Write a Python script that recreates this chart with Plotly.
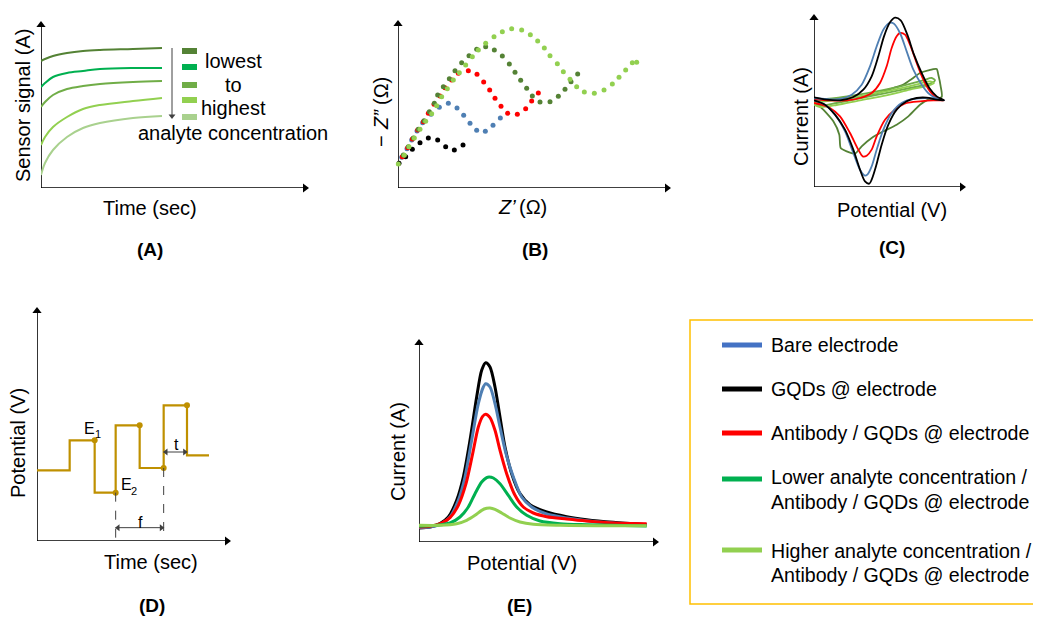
import plotly.graph_objects as go

W, H = 1041, 617          # target window
OFF = 8                   # page body margin in the browser
FW, FH = W - OFF, H - OFF # figure size so it fits in the window
FONT = "Liberation Sans, Arial, sans-serif"

# ---------------- data (arbitrary units) ----------------
# Panel A: sensor signal vs time, 5 concentrations
a_time = [0, 4, 12, 26, 42, 59, 92, 121]
a_sig1 = [127, 129, 132, 135, 137, 138, 139, 140]
a_sig2 = [101, 105, 111, 115, 117, 119, 120, 120]
a_sig3 = [81, 86, 93, 99, 102, 104, 106, 107]
a_sig4 = [43, 51, 61, 71, 79, 83, 87, 90]
a_sig5 = [13, 25, 38, 51, 60, 65, 70, 72]
a_labels = ["lowest", "to", "highest", "analyte concentration"]

# Panel B: Nyquist plots (Z', -Z'')
b_black_x = [3, 23, 43, 66, 91, 119, 143, 169, 195]
b_black_y = [74, 94, 116, 136, 150, 144, 124, 114, 129]
b_blue_x = [11, 27, 41, 57, 74, 99, 124, 151, 177, 197, 216, 236, 262, 285, 307]
b_blue_y = [92, 118, 144, 171, 196, 221, 242, 254, 240, 218, 194, 173, 170, 188, 210]
b_red_x = [13, 29, 43, 59, 76, 91, 108, 126, 141, 161, 181, 211, 237, 257, 275, 291, 309, 329, 358, 383, 401, 421]
b_red_y = [94, 121, 147, 174, 199, 224, 251, 276, 301, 324, 344, 352, 341, 318, 294, 269, 245, 224, 221, 238, 261, 285]
b_dkg_x = [16, 31, 46, 61, 78, 94, 109, 119, 136, 154, 171, 191, 213, 236, 263, 289, 313, 334, 351, 368, 386, 403, 426, 456, 481, 501, 519, 539]
b_dkg_y = [99, 124, 150, 176, 202, 229, 254, 279, 304, 328, 352, 376, 397, 416, 424, 414, 396, 372, 347, 323, 299, 276, 258, 259, 275, 296, 319, 342]
b_ltg_x = [1, 19, 33, 49, 66, 83, 101, 116, 131, 148, 166, 184, 203, 223, 241, 263, 288, 313, 341, 371, 397, 419, 439, 456, 478, 496, 516, 536, 559, 589, 618, 643, 663, 683, 703, 716]
b_ltg_y = [72, 98, 124, 150, 176, 200, 223, 247, 274, 298, 324, 346, 369, 394, 414, 434, 454, 469, 478, 474, 460, 441, 420, 397, 373, 349, 326, 304, 288, 284, 294, 312, 332, 354, 376, 377]

# Panel C: cyclic voltammograms (closed loops)
c_black_x = [0, 38, 78, 118, 148, 173, 193, 210, 228, 243, 260, 280, 300, 323, 346, 368, 390,
             368, 338, 308, 278, 248, 223, 203, 186, 173, 166, 153, 138, 118, 93, 63, 33, 0]
c_black_y = [269, 262, 260, 270, 292, 332, 392, 452, 494, 508, 500, 457, 397, 342, 297, 272, 260,
             262, 268, 267, 257, 232, 187, 127, 62, 22, 10, 17, 52, 112, 172, 217, 247, 260]
c_blue_x = [0, 38, 78, 113, 143, 168, 188, 208, 226, 240, 258, 278, 298, 323, 348, 373, 390,
            368, 338, 298, 263, 233, 208, 188, 173, 160, 153, 138, 118, 93, 63, 33, 0]
c_blue_y = [267, 264, 264, 277, 307, 362, 422, 472, 492, 490, 462, 407, 352, 307, 277, 264, 260,
            264, 267, 264, 252, 222, 172, 112, 62, 37, 34, 52, 102, 167, 217, 247, 260]
c_red_x = [0, 48, 98, 138, 173, 198, 218, 233, 248, 258, 273, 288, 308, 328, 348, 373, 390,
           358, 318, 278, 243, 213, 188, 173, 158, 146, 133, 108, 78, 48, 23, 0]
c_red_y = [264, 260, 260, 267, 282, 312, 362, 417, 452, 462, 457, 427, 372, 322, 287, 264, 260,
           260, 257, 252, 232, 202, 152, 112, 94, 92, 112, 162, 212, 237, 247, 252]
c_dkg_x = [0, 28, 58, 76, 80, 98, 123, 143, 173, 208, 248, 283, 303, 318, 343, 383, 380, 373, 368,
           343, 318, 293, 268, 238, 198, 158, 108, 48, 0]
c_dkg_y = [260, 232, 197, 157, 117, 107, 100, 122, 147, 167, 187, 212, 232, 247, 262, 270, 302, 337, 354,
           350, 342, 324, 307, 297, 284, 274, 267, 262, 260]
c_mdg_x = [0, 88, 188, 268, 328, 353, 363, 348, 288, 208, 138, 68, 18, 0]
c_mdg_y = [260, 270, 287, 304, 320, 327, 320, 310, 297, 280, 266, 252, 244, 252]
c_ltg_x = [0, 78, 178, 258, 318, 348, 360, 343, 288, 213, 138, 68, 18, 0]
c_ltg_y = [254, 262, 280, 296, 310, 317, 312, 304, 292, 274, 260, 246, 240, 247]

# Panel D: square-wave potential steps
d_time = [0, 98, 98, 173, 173, 236, 236, 308, 308, 380, 380, 450, 450, 516]
d_pot = [212, 212, 302, 302, 145, 145, 347, 347, 219, 219, 407, 407, 257, 257]
d_dot_t = [173, 236, 308, 380, 450]
d_dot_p = [302, 145, 347, 219, 407]

# Panel E: differential pulse voltammograms
e_black_x = [0, 33, 63, 88, 113, 133, 153, 173, 188, 200, 213, 228, 243, 258, 278, 303, 333, 383, 443, 503, 583, 683]
e_black_y = [42, 45, 55, 75, 125, 195, 305, 435, 515, 538, 525, 465, 375, 285, 205, 145, 112, 90, 76, 67, 59, 52]
e_blue_x = [0, 33, 68, 93, 118, 138, 158, 178, 193, 200, 213, 228, 243, 261, 283, 308, 338, 383, 443, 503, 583, 683]
e_blue_y = [43, 45, 55, 75, 125, 195, 305, 415, 465, 475, 465, 415, 345, 265, 195, 135, 105, 84, 72, 64, 57, 52]
e_red_x = [0, 33, 68, 93, 118, 141, 161, 178, 191, 200, 213, 228, 243, 263, 288, 313, 343, 383, 443, 503, 583, 683]
e_red_y = [45, 47, 57, 73, 110, 175, 265, 345, 377, 383, 373, 335, 275, 205, 140, 105, 87, 76, 69, 63, 57, 55]
e_grn_x = [0, 53, 93, 123, 148, 168, 188, 203, 210, 223, 243, 268, 293, 323, 363, 423, 503, 583, 683]
e_grn_y = [47, 50, 57, 75, 105, 145, 180, 193, 195, 192, 175, 140, 105, 80, 63, 55, 52, 50, 48]
e_ltg_x = [0, 63, 113, 143, 168, 188, 203, 213, 228, 248, 273, 303, 343, 423, 533, 683]
e_ltg_y = [50, 50, 55, 65, 80, 95, 101, 102, 98, 87, 72, 60, 53, 50, 49, 49]

legend_labels = ["Bare electrode", "GQDs @ electrode", "Antibody / GQDs @ electrode",
                 ["Lower analyte concentration /", "Antibody / GQDs @ electrode"],
                 ["Higher analyte concentration /", "Antibody / GQDs @ electrode"]]

# ---------------- colours ----------------
DKG, GRN, MDG, LTG, PLG = "#548235", "#00B050", "#70AD47", "#92D050", "#A9D18E"
BLUE, RED, BLK, GOLD = "#4f7fb3", "#FF0000", "#000000", "#BF9000"
GREY = "#404040"


def px(x):
    return (x - OFF) / FW


def py(y):
    return 1 - (y - OFF) / FH


# panel geometry: pixel extents of axes (window pixels) and data ranges
panels = {
    1: dict(x=(41, 308), y=(22, 188), xr=(0, 267), yr=(0, 166)),
    2: dict(x=(398, 670), y=(21, 188), xr=(0, 816), yr=(0, 501)),
    3: dict(x=(814, 965), y=(15, 187), xr=(0, 453), yr=(0, 516)),
    4: dict(x=(37, 230), y=(308, 541), xr=(0, 579), yr=(0, 699)),
    5: dict(x=(419, 658), y=(340, 542), xr=(0, 717), yr=(0, 606)),
}

fig = go.Figure()
layout = dict(width=FW, height=FH, margin=dict(l=0, r=0, t=0, b=0),
              paper_bgcolor="white", plot_bgcolor="rgba(0,0,0,0)",
              showlegend=False, font=dict(family=FONT, size=20, color="#000"))
annotations, shapes = [], []


def ax_names(n):
    sfx = "" if n == 1 else str(n)
    return "x" + sfx, "y" + sfx


def line(xs, ys, color, width, ax=1, shape="spline", smoothing=0.8, dash=None):
    xa, ya = ax_names(ax)
    fig.add_trace(go.Scatter(x=xs, y=ys, mode="lines", xaxis=xa, yaxis=ya,
                             line=dict(color=color, width=width, shape=shape,
                                       smoothing=smoothing if shape == "spline" else None,
                                       dash=dash),
                             hoverinfo="skip", cliponaxis=False))


def dots(xs, ys, color, size, ax, symbol="circle"):
    xa, ya = ax_names(ax)
    fig.add_trace(go.Scatter(x=xs, y=ys, mode="markers", xaxis=xa, yaxis=ya,
                             marker=dict(color=color, size=size, symbol=symbol, line=dict(width=0)),
                             hoverinfo="skip", cliponaxis=False))


def label(txt, x, y, size=20, angle=0, bold=False, italic=False, xanchor="center",
          xref="paper", yref="paper"):
    if xref == "paper":
        x, y = px(x), py(y)
    annotations.append(dict(x=x, y=y, xref=xref, yref=yref, text=txt, textangle=angle,
                            showarrow=False, xanchor=xanchor, yanchor="middle",
                            font=dict(size=size, weight="bold" if bold else "normal",
                                      style="italic" if italic else "normal")))


for n, p in panels.items():
    xa, ya = ax_names(n)
    sfx = xa[1:]
    layout["xaxis" + sfx] = dict(domain=[px(p["x"][0]), px(p["x"][1])], range=list(p["xr"]),
                                 visible=False, anchor=ya, fixedrange=True)
    layout["yaxis" + sfx] = dict(domain=[py(p["y"][1]), py(p["y"][0])], range=list(p["yr"]),
                                 visible=False, anchor=xa, fixedrange=True)

# axis lines with arrow heads
for n, p in panels.items():
    kx = (p["xr"][1] - p["xr"][0]) / (p["x"][1] - p["x"][0])   # data units per pixel
    ky = (p["yr"][1] - p["yr"][0]) / (p["y"][1] - p["y"][0])
    line([0, p["xr"][1] - 3 * kx], [0, 0], BLK, 1.6, n, shape="linear")
    line([0, 0], [0, p["yr"][1] - 3 * ky], BLK, 1.6, n, shape="linear")
    dots([p["xr"][1] - 3 * kx], [0], BLK, 8, n, "triangle-right")
    dots([0], [p["yr"][1] - 3 * ky], BLK, 8, n, "triangle-up")

# ---- Panel A
for ys, c in [(a_sig1, DKG), (a_sig2, GRN), (a_sig3, MDG), (a_sig4, LTG), (a_sig5, PLG)]:
    line(a_time, ys, c, 2, 1, smoothing=1.0)
for yy, c in [(51, DKG), (67, GRN), (85, MDG), (100, LTG), (117, PLG)]:
    shapes.append(dict(type="rect", xref="paper", yref="paper", x0=px(182), x1=px(197),
                       y0=py(yy + 3), y1=py(yy - 3), fillcolor=c, line=dict(width=0)))
line([131, 131], [140, 72], GREY, 1, 1, shape="linear")
dots([131], [72], GREY, 6, 1, "triangle-down")
for txt, yy in zip(a_labels, [61, 85, 108, 133]):
    label(txt, 233, yy)

# ---- Panel B
dots(b_black_x, b_black_y, BLK, 5, 2)
dots(b_blue_x, b_blue_y, BLUE, 5, 2)
dots(b_red_x, b_red_y, RED, 5, 2)
dots(b_dkg_x, b_dkg_y, DKG, 5, 2)
dots(b_ltg_x, b_ltg_y, LTG, 5, 2)

# ---- Panel C
line(c_dkg_x, c_dkg_y, DKG, 1.8, 3, smoothing=0.6)
line(c_mdg_x, c_mdg_y, MDG, 1.8, 3, smoothing=0.8)
line(c_ltg_x, c_ltg_y, LTG, 1.8, 3, smoothing=0.8)
line(c_red_x, c_red_y, RED, 1.8, 3)
line(c_blue_x, c_blue_y, BLUE, 1.8, 3)
line(c_black_x, c_black_y, BLK, 1.8, 3)

# ---- Panel D
line(d_time, d_pot, GOLD, 2.2, 4, shape="linear")
dots(d_dot_t, d_dot_p, GOLD, 6, 4)
line([236, 236], [145, 0], GREY, 1, 4, shape="linear", dash="dash")
line([380, 380], [219, 0], GREY, 1, 4, shape="linear", dash="dash")
for (x0, x1, yy) in [(236, 380, 40), (380, 450, 267)]:
    line([x0, x1], [yy, yy], GREY, 1, 4, shape="linear")
    dots([x0 + 7], [yy], GREY, 6, 4, "triangle-left")
    dots([x1 - 7], [yy], GREY, 6, 4, "triangle-right")
for txt, xx, yy, sz in [("E", 157, 339, 16), ("1", 183, 322, 11),
                        ("E", 267, 169, 16), ("2", 291, 151, 11),
                        ("f", 309, 57, 16), ("t", 417, 291, 16)]:
    label(txt, xx, yy, size=sz, xref="x4", yref="y4")

# ---- Panel E
line(e_black_x, e_black_y, BLK, 3, 5)
line(e_blue_x, e_blue_y, BLUE, 3, 5)
line(e_red_x, e_red_y, RED, 3, 5)
line(e_grn_x, e_grn_y, GRN, 3, 5)
line(e_ltg_x, e_ltg_y, LTG, 3, 5)

# ---- axis titles and panel letters
label("Sensor signal (A)", 23, 106, angle=-90)
label("Time (sec)", 150, 208)
label("(A)", 150, 249, size=19, bold=True)

label("−", 381, 141, angle=-90)
label("Z”", 381, 120, angle=-90, italic=True)
label("(Ω)", 381, 91, angle=-90)
label("Z’", 507, 207, italic=True)
label("(Ω)", 533, 207)
label("(B)", 535, 249, size=19, bold=True)

label("Current (A)", 801, 117, angle=-90)
label("Potential (V)", 892, 210)
label("(C)", 892, 248, size=19, bold=True)

label("Potential (V)", 18, 443, angle=-90)
label("Time (sec)", 151, 562)
label("(D)", 152, 605, size=19, bold=True)

label("Current (A)", 398, 452, angle=-90)
label("Potential (V)", 522, 563)
label("(E)", 519, 605, size=19, bold=True)

# ---- legend box
shapes.append(dict(type="rect", xref="paper", yref="paper", x0=px(690), x1=px(1046),
                   y0=py(604), y1=py(320), line=dict(color="#FFC000", width=1.5),
                   fillcolor="rgba(0,0,0,0)"))
leg_colors = ["#4472C4", BLK, RED, GRN, LTG]
leg_y = [345, 389, 433, 479, 550]
leg_text_y = [[345], [389], [433], [477, 502], [551, 575]]
for lab, c, ly, tys in zip(legend_labels, leg_colors, leg_y, leg_text_y):
    shapes.append(dict(type="line", xref="paper", yref="paper", x0=px(722), x1=px(762),
                       y0=py(ly), y1=py(ly), line=dict(color=c, width=5)))
    labs = lab if isinstance(lab, list) else [lab]
    for t, ty in zip(labs, tys):
        label(t, 769, ty, size=19.6, xanchor="left")

layout["annotations"] = annotations
layout["shapes"] = shapes
fig.update_layout(**layout)
fig.write_html("out.html")
